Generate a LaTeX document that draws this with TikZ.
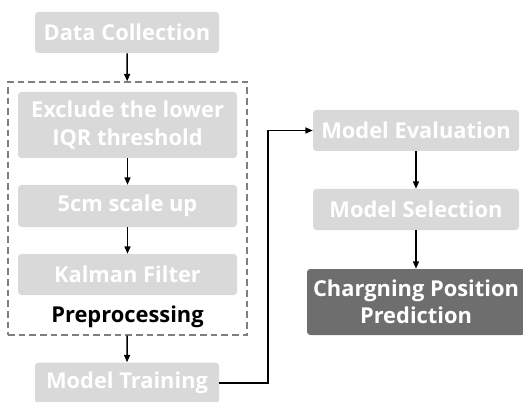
\documentclass[tikz,border=0pt]{standalone}
\usepackage{fontspec}
\setmainfont{Open Sans}
\usetikzlibrary{arrows.meta}

\definecolor{boxgrey}{HTML}{D9D9D9}
\definecolor{darkgrey}{HTML}{6E6E6E}
\definecolor{dashgrey}{HTML}{7F7F7F}

\begin{document}
\begin{tikzpicture}[x=0.75pt,y=-0.75pt,
  box/.style={fill=boxgrey,rounded corners=2.5pt,text=white,inner sep=0pt,align=center,
    font=\bfseries\fontsize{16.4}{20.5}\selectfont},
  darkbox/.style={box,fill=darkgrey},
  flow/.style={-{Triangle[length=5.5pt,width=4.5pt]},line width=1.1pt}]
\useasboundingbox (0,0) rectangle (523,402);
% preprocessing frame
\node[draw=dashgrey,line width=1.1pt,dash pattern=on 5pt off 3pt,minimum width=179.25pt,minimum height=189.75pt] (prep) at (127.5,208.5) {};
% left column
\node[box,minimum width=138pt,minimum height=30.75pt] (collect) at (127,32.5) {Data Collection};
\node[box,minimum width=164.25pt,minimum height=49.5pt] (iqr) at (127.5,125) {Exclude the lower\\IQR threshold};
\node[box,minimum width=164.25pt,minimum height=31.5pt] (scale) at (127.5,206) {5cm scale up};
\node[box,minimum width=164.25pt,minimum height=30.75pt] (kalman) at (127.5,274.5) {Kalman Filter};
\node[font=\bfseries\fontsize{16.4}{20.5}\selectfont] (preptxt) at (127.5,317) {Preprocessing};
\node[box,minimum width=138pt,minimum height=30.75pt] (train) at (127,383) {Model Training};
% right column
\node[box,minimum width=154.5pt,minimum height=30.75pt] (eval) at (416,130.5) {Model Evaluation};
\node[box,minimum width=154.5pt,minimum height=30.75pt] (select) at (416,209.5) {Model Selection};
\node[darkbox,minimum width=163.5pt,minimum height=49.5pt] (predict) at (416,302) {Chargning Position\\Prediction};
\coordinate (turn) at (268,383);
\draw[flow] (collect) -- (prep);
\draw[flow] (iqr) -- (scale);
\draw[flow] (scale) -- (kalman);
\draw[flow] (prep) -- (train);
\draw[flow] (train) -- (turn) |- (eval);
\draw[flow] (eval) -- (select);
\draw[flow] (select) -- (predict);
\end{tikzpicture}
\end{document}
